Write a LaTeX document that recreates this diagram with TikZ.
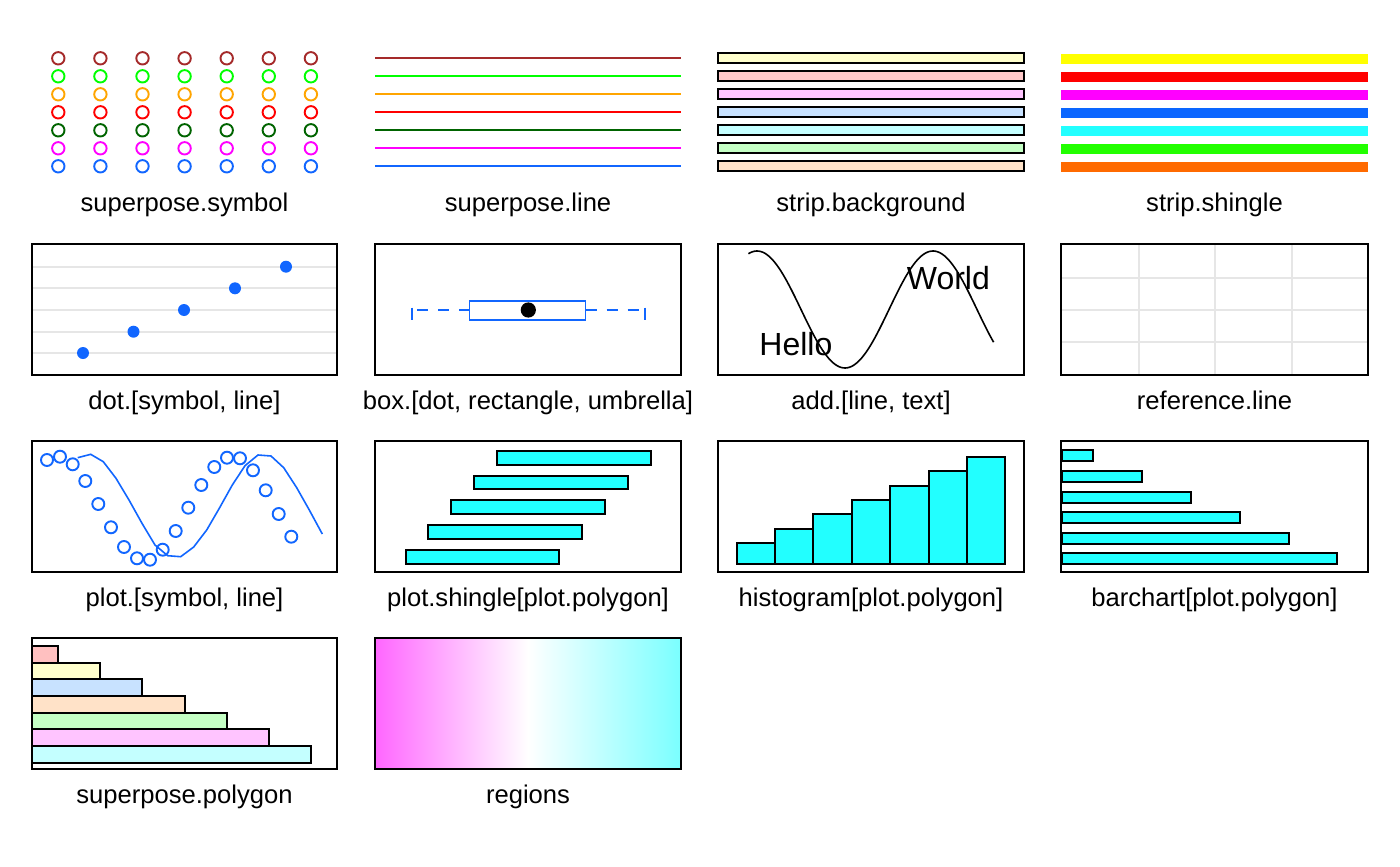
\documentclass[tikz,border=0pt]{standalone}
\usepackage{fontspec}
\setmainfont{Liberation Sans}
\begin{document}
\begin{tikzpicture}[x=0.5pt,y=-0.5pt]
\definecolor{cBrown}{HTML}{A52A2A}
\definecolor{cGreen}{HTML}{00FF00}
\definecolor{cOrange}{HTML}{FFA500}
\definecolor{cRed}{HTML}{FF0000}
\definecolor{cDkGreen}{HTML}{006400}
\definecolor{cMagenta}{HTML}{FF00FF}
\definecolor{cBlue}{HTML}{1166FF}
\definecolor{sbA}{HTML}{FFFFCC}
\definecolor{sbB}{HTML}{FFC8C8}
\definecolor{sbC}{HTML}{FFC4FF}
\definecolor{sbD}{HTML}{C8E2FF}
\definecolor{sbE}{HTML}{C4FFFF}
\definecolor{sbF}{HTML}{C4FFC4}
\definecolor{sbG}{HTML}{FFE2C8}
\definecolor{shA}{HTML}{FFFF00}
\definecolor{shB}{HTML}{FF0000}
\definecolor{shC}{HTML}{FF00FF}
\definecolor{shD}{HTML}{0A66FF}
\definecolor{shE}{HTML}{22FFFF}
\definecolor{shF}{HTML}{22FF00}
\definecolor{shG}{HTML}{FF6A00}
\definecolor{spA}{HTML}{FFC0C0}
\definecolor{gridgray}{HTML}{E6E6E6}
\definecolor{barcyan}{HTML}{22FFFF}
\definecolor{regL}{HTML}{FF66FF}
\definecolor{regR}{HTML}{7AFFFF}
\tikzset{
  panel/.style={draw=black, line width=1pt},
  gridln/.style={draw=gridgray, line width=1pt},
  lab/.style={anchor=base, inner sep=0pt, font=\fontsize{12.8}{15}\selectfont},
  bigtxt/.style={anchor=base west, inner sep=0pt, font=\fontsize{16}{19}\selectfont},
  bar/.style={fill=barcyan, draw=black, line width=1pt},
  opencirc/.style={line width=0.95pt},
  sline/.style={line width=0.8pt},
  stripbg/.style={draw=black, line width=1pt},
  whisk/.style={cBlue, line width=0.8pt, dash pattern=on 5.5pt off 5pt},
}
\useasboundingbox (0,0) rectangle (1400,866);
\fill[white] (0,0) rectangle (1400,866);

% ---------- Row 1 ----------
% superpose.symbol
\foreach \c [count=\k from 0] in {cBrown,cGreen,cOrange,cRed,cDkGreen,cMagenta,cBlue}{
  \foreach \x in {58.3,100.4,142.5,184.6,226.7,268.8,310.9}{
    \draw[opencirc,\c] (\x,{58.3+18*\k}) circle[radius=3.1pt];
  }
  % superpose.line
  \draw[sline,\c] (375,{58.3+18*\k}) -- (681,{58.3+18*\k});
}
% strip.background
\foreach \c [count=\k from 0] in {sbA,sbB,sbC,sbD,sbE,sbF,sbG}{
  \filldraw[stripbg,fill=\c] (718,{53.5+18*\k}) rectangle (1024,{63.5+18*\k});
}
% strip.shingle
\foreach \c [count=\k from 0] in {shA,shB,shC,shD,shE,shF,shG}{
  \fill[\c] (1061,{54.5+18*\k}) rectangle (1368,{64+18*\k});
}
\node[lab] (l1) at (184.5,212) {superpose.symbol};
\node[lab] (l2) at (528,212) {superpose.line};
\node[lab] (l3) at (871,212) {strip.background};
\node[lab] (l4) at (1214.5,212) {strip.shingle};

% ---------- Row 2 ----------
% dot.[symbol, line]
\foreach \y in {266.7,288.3,310,331.7,353}{
  \draw[gridln] (32,\y) -- (337,\y);
}
\foreach \x/\y in {83/353,133.5/331.7,184/310,235/288.3,286/266.7}{
  \fill[cBlue] (\x,\y) circle[radius=3pt];
}
\draw[panel] (32,244) rectangle (337,375);
% box.[dot, rectangle, umbrella]
\draw[whisk] (469.5,310) -- (412,310);
\draw[whisk] (585.5,310) -- (645,310);
\draw[cBlue, line width=0.8pt] (412,307.5) -- (412,320);
\draw[cBlue, line width=0.8pt] (645,307.5) -- (645,320);
\draw[cBlue, line width=0.8pt] (469.5,300.7) rectangle (585.5,320);
\fill[black] (528.3,310) circle[radius=3.8pt];
\draw[panel] (375,244) rectangle (681,375);
% add.[line, text]
\draw[line width=0.8pt] plot[domain=748.4:993.6, samples=120, smooth] (\x,{309.5-58.5*cos((\x-757)/176*360)});
\node[bigtxt] (hello) at (759,355) {Hello};
\node[bigtxt] (world) at (906.5,289.3) {World};
\draw[panel] (718,244) rectangle (1024,375);
% reference.line
\foreach \x in {1138.5,1214.7,1291.8}{
  \draw[gridln] (\x,244) -- (\x,375);
}
\foreach \y in {277.7,310,342.3}{
  \draw[gridln] (1061,\y) -- (1368,\y);
}
\draw[panel] (1061,244) rectangle (1368,375);
\node[lab] (l5) at (184.5,409) {dot.[symbol, line]};
\node[lab] (l6) at (528,409) {box.[dot, rectangle, umbrella]};
\node[lab] (l7) at (871,409) {add.[line, text]};
\node[lab] (l8) at (1214.5,409) {reference.line};

% ---------- Row 3 ----------
% plot.[symbol, line]
\draw[cBlue, line width=0.8pt] plot coordinates {(77.7,457.7) (90.7,454.3) (103.3,461.7) (116,478.3) (129,500) (142,523.3) (155,545) (167.7,555.7) (180.7,556.7) (193.7,547) (206.7,530) (219.3,508.3) (232.3,485) (245,465.7) (258,455) (271,456) (283.7,467.7) (296.7,487.7) (309.3,510) (322.3,534)};
\foreach \x/\y in {47/460,60/456.7,72.7/464.3,85.3/481,98.3/504,111/527.3,124/547,137/558.3,150/559.7,162.7/549.7,175.7/531,188.3/507.7,201.3/485,214.3/467,227/457.7,240/458.3,253/470.3,265.7/490.3,278.7/514,291.3/536.7}{
  \draw[cBlue, opencirc] (\x,\y) circle[radius=3pt];
}
\draw[panel] (32,441) rectangle (337,572);
% plot.shingle[plot.polygon]
\foreach \a/\b/\t in {496.9/651.4/451,473.8/628.3/475.7,451.2/604.8/500,428.1/581.8/525,405.5/558.7/550}{
  \filldraw[bar] (\a,\t) rectangle (\b,{\t+13.5});
}
\draw[panel] (375,441) rectangle (681,572);
% histogram[plot.polygon]
\foreach \t [count=\i from 0] in {543.3,529,514.3,500,485.7,471,456.7}{
  \filldraw[bar] ({736.7+38.37*\i},564.3) rectangle ({736.7+38.37*(\i+1)},\t);
}
\draw[panel] (718,441) rectangle (1024,572);
% barchart[plot.polygon]
\foreach \e/\t in {1092.7/450,1141.7/470.7,1190.7/491.7,1239.7/512.3,1288.7/533,1337.3/553.3}{
  \filldraw[bar] (1062,\t) rectangle (\e,{\t+10.8});
}
\draw[panel] (1061,441) rectangle (1368,572);
\node[lab] (l9) at (184.5,606) {plot.[symbol, line]};
\node[lab] (l10) at (528,606) {plot.shingle[plot.polygon]};
\node[lab] (l11) at (871,606) {histogram[plot.polygon]};
\node[lab] (l12) at (1214.5,606) {barchart[plot.polygon]};

% ---------- Row 4 ----------
% superpose.polygon
\foreach \c/\e [count=\k from 0] in {spA/58,sbA/100.4,sbD/142.3,sbG/184.7,sbF/226.7,sbC/269,sbE/311}{
  \filldraw[fill=\c, draw=black, line width=1pt] (32,{646+16.67*\k}) rectangle (\e,{646+16.67*(\k+1)});
}
\draw[panel] (32,638) rectangle (337,769);
% regions
\shade[left color=regL, right color=regR, middle color=white] (375,638) rectangle (681,769);
\draw[panel] (375,638) rectangle (681,769);
\node[lab] (l13) at (184.5,803) {superpose.polygon};
\node[lab] (l14) at (528,803) {regions};
\end{tikzpicture}
\end{document}
